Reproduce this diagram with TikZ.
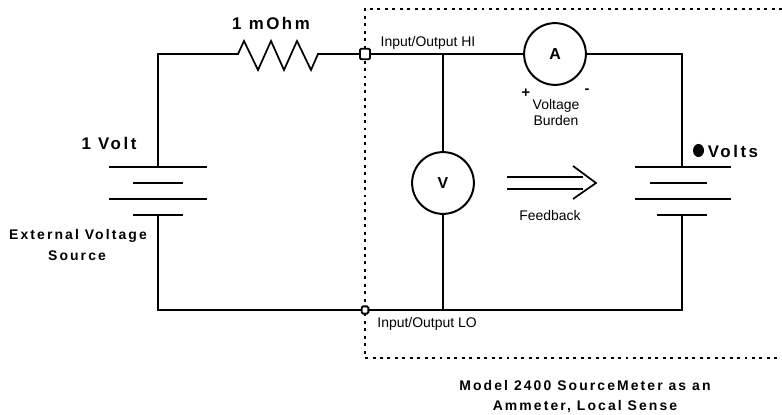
\documentclass[tikz,border=0pt]{standalone}
\usepackage{fontspec}
\setmainfont{Liberation Sans}
\newfontfamily\widefont[LetterSpace=15]{Liberation Sans}
\tikzset{
  wire/.style={line width=1.5pt,line cap=rect},
  plate/.style={line width=1.5pt},
  meter/.style={circle,draw,line width=1.5pt,minimum size=46.5pt,inner sep=0pt,font=\bfseries\fontsize{12}{14}\selectfont},
  port/.style={draw,fill=white,rounded corners=1pt,line width=1.4pt,inner sep=0pt},
  small/.style={font=\fontsize{10.5}{12}\selectfont,inner sep=0pt},
  title/.style={font=\widefont\bfseries\fontsize{10.5}{12}\selectfont,inner sep=0pt},
  big/.style={font=\widefont\bfseries\fontsize{12.7}{14}\selectfont,inner sep=0pt},
}
\begin{document}
\begin{tikzpicture}
    \def\x{0.02646}
    \def\y{-0.02646}
    \useasboundingbox (0,0) rectangle (782*\x, 415*\y);
    % sense box
    \draw [line width=1.5pt,dash pattern=on 2.2pt off 3.4pt] (782*\x, 9*\y) -- (365*\x, 9*\y) -- (365*\x, 358*\y) -- (782*\x, 358*\y);
    % corners and plate ends
    \coordinate (C0_0) at (158*\x, 54*\y);
    \coordinate (C0_1) at (443*\x, 54*\y);
    \coordinate (C0_2) at (682*\x, 54*\y);
    \coordinate (C1_0) at (158*\x, 167*\y);
    \coordinate (C1_2) at (682*\x, 167*\y);
    \coordinate (C2_0) at (158*\x, 215*\y);
    \coordinate (C2_2) at (682*\x, 215*\y);
    \coordinate (C3_0) at (158*\x, 310*\y);
    \coordinate (C3_1) at (443*\x, 310*\y);
    \coordinate (C3_2) at (682*\x, 310*\y);
    \coordinate (R0) at (238*\x, 54*\y);
    \coordinate (R1) at (318*\x, 54*\y);
    \node [meter] (A0) at (555*\x, 54*\y) {A};
    \node [meter] (V0) at (443*\x, 183*\y) {V};
    % wires
    \draw [wire] (C1_0) -- (C0_0) -- (R0);
    \draw [wire] (C2_0) -- (C3_0) -- (C3_1) -- (C3_2) -- (C2_2);
    \draw [wire] (R1) -- (C0_1) -- (A0.west);
    \draw [wire] (A0.east) -- (C0_2) -- (C1_2);
    \draw [wire] (C0_1) -- (V0.north);
    \draw [wire] (V0.south) -- (C3_1);
    \node [port,minimum width=7.5pt,minimum height=8pt] (P0) at (365*\x, 54*\y) {};
    \node [port,minimum width=5pt,minimum height=5.5pt] (P1) at (365*\x, 310*\y) {};
    % resistor
    \draw [line width=1.3pt,line join=miter] (R0) -- (244*\x, 41*\y) -- (258*\x, 70*\y) -- (271*\x, 41*\y)
      -- (284*\x, 70*\y) -- (297*\x, 41*\y) -- (311*\x, 70*\y) -- (R1);
    % batteries
    \draw [plate] (109*\x, 167*\y) -- (207*\x, 167*\y);
    \draw [plate] (133*\x, 183*\y) -- (183*\x, 183*\y);
    \draw [plate] (109*\x, 199*\y) -- (207*\x, 199*\y);
    \draw [plate] (133*\x, 215*\y) -- (183*\x, 215*\y);
    \draw [plate] (635*\x, 167*\y) -- (731*\x, 167*\y);
    \draw [plate] (650*\x, 183*\y) -- (707*\x, 183*\y);
    \draw [plate] (635*\x, 199*\y) -- (731*\x, 199*\y);
    \draw [plate] (657*\x, 215*\y) -- (707*\x, 215*\y);
    % feedback arrow
    \draw [plate] (507*\x, 177*\y) -- (583*\x, 177*\y);
    \draw [plate] (507*\x, 189*\y) -- (583*\x, 189*\y);
    \draw [line width=1.3pt] (573*\x, 166*\y) -- (596*\x, 183*\y) -- (573*\x, 199*\y);
    % labels
    \node [big] (L0) at (271*\x, 23*\y) {1 mOhm};
    \node [big] (L1) at (109*\x, 143*\y) {1 Volt};
    \node [big] (L2) at (733*\x, 151*\y) {Volts};
    \fill (698.5*\x, 150.5*\y) ellipse [x radius=5.5*\x cm, y radius=6.5*\x cm];
    \node [title] (L3) at (78*\x, 236*\y) {External Voltage};
    \node [title] (L4) at (77*\x, 256*\y) {Source};
    \node [small] (L5) at (428*\x, 43*\y) {Input/Output HI};
    \node [small] (L6) at (427*\x, 324*\y) {Input/Output LO};
    \node [small] (L7) at (550*\x, 216*\y) {Feedback};
    \node [small] (L8) at (556*\x, 106*\y) {Voltage};
    \node [small] (L9) at (556*\x, 121*\y) {Burden};
    \node [small,font=\bfseries\fontsize{11}{12}\selectfont] (L10) at (526*\x, 93*\y) {+};
    \node [small,font=\bfseries\fontsize{11}{12}\selectfont] (L11) at (587*\x, 91*\y) {-};
    \node [title] (L12) at (585*\x, 386*\y) {Model 2400 SourceMeter as an};
    \node [title] (L13) at (585*\x, 407*\y) {Ammeter, Local Sense};
  \end{tikzpicture}
\end{document}
